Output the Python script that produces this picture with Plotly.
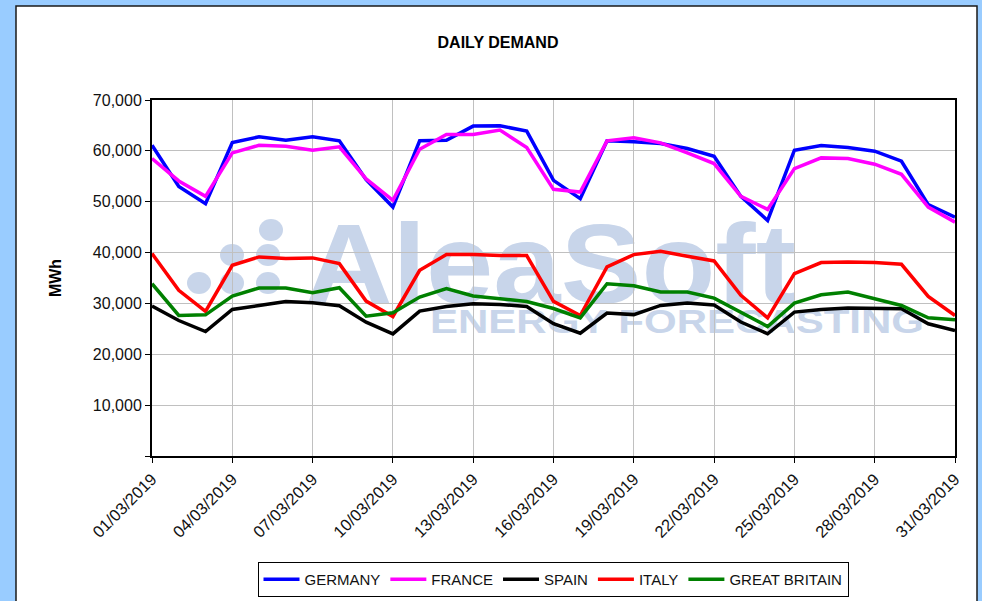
import base64
import plotly.graph_objects as go

# ---------------- data ----------------
dates = [f"2019-03-{d:02d}" for d in range(1, 32)]

germany = [61100, 53000, 49600, 61650, 62760, 62100, 62760, 61970, 54340, 48950,
           61970, 62100, 64870, 64930, 63880, 54200, 50590, 61970, 61780, 61450,
           60460, 58950, 51050, 46320, 60130, 61050, 60660, 59930, 57960, 49410, 46970]
france = [58490, 54080, 51050, 59600, 61100, 60920, 60130, 60790, 54470, 50260,
          60330, 63220, 63220, 64080, 60660, 52430, 51900, 61970, 62570, 61580,
          59600, 57500, 51050, 48490, 56510, 58620, 58490, 57370, 55390, 48950, 45990]
spain = [29470, 26640, 24470, 28820, 29600, 30390, 30130, 29540, 26320, 24010,
         28490, 29410, 29930, 29800, 29410, 26000, 24140, 28100, 27800, 29600,
         30080, 29700, 26340, 24040, 28290, 28820, 29080, 28950, 28950, 25990, 24670]
italy = [39800, 32570, 28420, 37500, 39140, 38820, 38950, 37830, 30460, 27430,
         36510, 39600, 39600, 39400, 39400, 30400, 27630, 37170, 39600, 40260,
         39280, 38360, 31580, 27170, 35860, 38030, 38160, 38030, 37700, 31380, 27630]
great_britain = [33880, 27630, 27760, 31450, 33030, 33030, 32100, 33090, 27500, 28160,
                 31250, 32900, 31450, 30920, 30390, 29000, 27170, 33880, 33490, 32240,
                 32240, 31050, 28290, 25460, 30070, 31710, 32240, 30920, 29600, 27170, 26780]

series_names = ["GERMANY", "FRANCE", "SPAIN", "ITALY", "GREAT BRITAIN"]
series_values = [germany, france, spain, italy, great_britain]
series_colors = ["#0000FF", "#FF00FF", "#000000", "#FF0000", "#008000"]

x_tick_vals = dates[::3]
x_tick_text = ["01/03/2019", "04/03/2019", "07/03/2019", "10/03/2019", "13/03/2019",
               "16/03/2019", "19/03/2019", "22/03/2019", "25/03/2019", "28/03/2019",
               "31/03/2019"]
y_tick_vals = [0, 10000, 20000, 30000, 40000, 50000, 60000, 70000]
y_tick_text = ["", "10,000", "20,000", "30,000", "40,000", "50,000", "60,000", "70,000"]

FONT = "Liberation Sans, Arial, sans-serif"

# ---------------- watermark (logo) ----------------
wm_color = "#c8d5ea"
svg = f"""<svg xmlns='http://www.w3.org/2000/svg' width='803' height='356' viewBox='0 0 803 356' preserveAspectRatio='none'>
<g fill='{wm_color}'>
<ellipse cx='119' cy='130' rx='12' ry='11'/>
<ellipse cx='80' cy='155' rx='12' ry='11'/>
<ellipse cx='116' cy='155' rx='12' ry='11'/>
<ellipse cx='47' cy='183' rx='12' ry='11'/>
<ellipse cx='80' cy='183' rx='12' ry='11'/>
<ellipse cx='116' cy='183' rx='12' ry='11'/>
<text x='153' y='203' font-family='Liberation Sans, Arial' font-weight='bold' font-size='114' textLength='491' lengthAdjust='spacingAndGlyphs'>AleaSoft</text>
<text x='278' y='233' font-family='Liberation Sans, Arial' font-weight='bold' font-size='33' textLength='494' lengthAdjust='spacingAndGlyphs'>ENERGY FORECASTING</text>
</g></svg>"""
svg_uri = "data:image/svg+xml;base64," + base64.b64encode(svg.encode()).decode()

fig = go.Figure()
for name, vals, col in zip(series_names, series_values, series_colors):
    fig.add_trace(go.Scatter(x=dates, y=vals, name=name, mode="lines",
                             line=dict(color=col, width=3.5)))

fig.update_layout(
    width=982, height=601,
    margin=dict(l=152, r=27, t=100, b=145),
    paper_bgcolor="#99CCFF",
    plot_bgcolor="white",
    font=dict(family=FONT, color="#111111"),
    title=dict(text="<b>DAILY DEMAND</b>", font=dict(size=16, color="black", family=FONT),
               x=498 / 982, xref="container", xanchor="center",
               y=1 - 42 / 601, yref="container", yanchor="middle"),
    showlegend=True,
    legend=dict(orientation="h", x=553 / 982, xref="container", xanchor="center",
                y=1 - 562 / 601, yref="container", yanchor="top",
                bgcolor="white", bordercolor="black", borderwidth=1, itemwidth=36,
                font=dict(size=15, family=FONT, color="#111111")),
    shapes=[dict(type="rect", xref="paper", yref="paper",
                 xsizemode="pixel", ysizemode="pixel", xanchor=0, yanchor=0,
                 x0=-136, x1=825, y0=-170, y1=450,
                 fillcolor="white", line=dict(color="#1a1a1a", width=1.5),
                 layer="below")],
    images=[dict(source=svg_uri, xref="x domain", yref="y domain", x=0, y=1,
                 sizex=1, sizey=1, xanchor="left", yanchor="top",
                 sizing="stretch", layer="below")],
)

fig.update_xaxes(type="date", range=[dates[0], dates[-1]], automargin=False,
                 tickvals=x_tick_vals, ticktext=x_tick_text, tickangle=-45,
                 ticks="outside", ticklen=5, tickcolor="black",
                 showline=True, linecolor="black", linewidth=2, mirror=True,
                 showgrid=True, gridcolor="#C0C0C0", gridwidth=1,
                 tickfont=dict(size=16.5, family=FONT, color="#111111"))
fig.update_yaxes(range=[0, 70000], tickvals=y_tick_vals, ticktext=y_tick_text,
                 ticks="outside", ticklen=5, tickcolor="black",
                 showline=True, linecolor="black", linewidth=2, mirror=True,
                 showgrid=True, gridcolor="#C0C0C0", gridwidth=1,
                 zeroline=False,
                 tickfont=dict(size=16, family=FONT, color="#111111"),
                 title=dict(text="<b>MWh</b>", font=dict(size=16, family=FONT, color="black"),
                            standoff=27))

fig.write_html("out.html", config={"displayModeBar": False},
               post_script="document.body.style.margin='0';document.body.style.padding='0';"
                           "document.body.style.overflow='hidden';")
